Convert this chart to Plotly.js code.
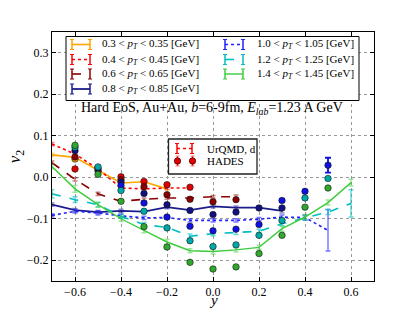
<!DOCTYPE html>
<html><head><meta charset="utf-8">
<script src="https://cdn.plot.ly/plotly-3.0.1.min.js"></script>
<style>html,body{margin:0;padding:0;background:#fff}#g{width:415px;height:312px}</style>
</head><body><div id="g"></div>
<script>
// ---------- data ----------
const binLabels = ["0.3","0.4","0.6","0.8","1.0","1.2","1.4"];
const binUpper  = ["0.35","0.45","0.65","0.85","1.05","1.25","1.45"];

// UrQMD deuteron v2 vs rapidity
const urqmdOrangeX = [-0.7,-0.6,-0.5,-0.4,-0.3,-0.2];
const urqmdOrangeV = [0.054,0.048,0.017,-0.014,-0.011,-0.028];
const urqmdOrangeE = [0.004,0.005,0.004,0.004,0.004,0.004];
const urqmdRedX = [-0.7,-0.6,-0.5,-0.4,-0.3,-0.2,-0.1];
const urqmdRedV = [0.080,0.056,0.020,-0.026,-0.028,-0.026,-0.026];
const urqmdRedE = [0.004,0.004,0.004,0.003,0.003,0.003,0.003];
const urqmdDarkRedX = [-0.7,-0.6,-0.5,-0.4,-0.3,-0.2,-0.1,0.0,0.1];
const urqmdDarkRedV = [0.035,-0.005,-0.040,-0.058,-0.053,-0.050,-0.050,-0.047,-0.047];
const urqmdDarkRedE = [0.004,0.004,0.004,0.004,0.003,0.003,0.003,0.003,0.004];
const urqmdNavyX = [-0.7,-0.6,-0.5,-0.4,-0.3,-0.2,-0.1,0.0,0.1,0.2,0.3];
const urqmdNavyV = [-0.066,-0.079,-0.084,-0.081,-0.083,-0.072,-0.079,-0.070,-0.073,-0.073,-0.081];
const urqmdNavyE = [0.004,0.004,0.004,0.004,0.004,0.004,0.004,0.004,0.004,0.004,0.005];
const urqmdBlueX = [-0.7,-0.6,-0.5,-0.4,-0.3,-0.2,-0.1,0.0,0.1,0.2,0.3,0.4,0.5];
const urqmdBlueV = [-0.092,-0.082,-0.086,-0.093,-0.098,-0.097,-0.104,-0.104,-0.104,-0.101,-0.096,-0.097,-0.128];
const urqmdBlueE = [0.004,0.004,0.005,0.004,0.004,0.004,0.004,0.004,0.004,0.004,0.005,0.006,0.050];
const urqmdCyanX = [-0.7,-0.6,-0.5,-0.4,-0.3,-0.2,-0.1,0.0,0.1,0.2,0.3,0.4,0.5,0.6];
const urqmdCyanV = [-0.040,-0.054,-0.066,-0.094,-0.114,-0.121,-0.142,-0.136,-0.133,-0.130,-0.112,-0.098,-0.084,-0.063];
const urqmdCyanE = [0.010,0.007,0.005,0.005,0.005,0.005,0.005,0.005,0.005,0.005,0.005,0.005,0.006,0.033];
const urqmdGreenX = [-0.7,-0.6,-0.5,-0.4,-0.3,-0.2,-0.1,0.0,0.1,0.2,0.3,0.4,0.5,0.6];
const urqmdGreenV = [0.026,-0.028,-0.066,-0.100,-0.128,-0.156,-0.177,-0.179,-0.175,-0.169,-0.124,-0.096,-0.061,-0.013];
const urqmdGreenE = [0.006,0.008,0.006,0.006,0.006,0.006,0.005,0.006,0.005,0.005,0.006,0.006,0.006,0.008];

// HADES data points
const hadesOrangeX = [-0.6];
const hadesOrangeV = [0.044];
const hadesRedX = [-0.6,-0.4,-0.3,-0.2,-0.1];
const hadesRedV = [0.020,0.001,-0.010,-0.018,-0.024];
const hadesDarkRedX = [-0.6,-0.5,-0.4,-0.3,-0.2,-0.1,0.0,0.1];
const hadesDarkRedV = [0.049,0.016,-0.006,-0.023,-0.042,-0.053,-0.059,-0.054];
const hadesNavyX = [-0.6,-0.5,-0.4,-0.3,-0.2,-0.1,0.0,0.1,0.2,0.3];
const hadesNavyV = [0.064,0.021,-0.012,-0.039,-0.066,-0.080,-0.090,-0.084,-0.074,-0.074];
const hadesBlueX = [-0.4,-0.3,-0.2,-0.1,0.0,0.1,0.2,0.3,0.4,0.5];
const hadesBlueV = [-0.020,-0.062,-0.096,-0.118,-0.129,-0.125,-0.114,-0.056,-0.034,0.029];
const hadesBlueE = [0.002,0.002,0.002,0.002,0.002,0.002,0.002,0.003,0.003,0.018];
const hadesCyanX = [-0.6,-0.5,-0.4,-0.3,-0.2,-0.1,0.0,0.1,0.2,0.3,0.4,0.5];
const hadesCyanV = [0.072,0.025,-0.032,-0.082,-0.122,-0.153,-0.167,-0.163,-0.140,-0.104,-0.050,-0.003];
const hadesGreenX = [-0.6,-0.5,-0.4,-0.3,-0.2,-0.1,0.0,0.1,0.2,0.3,0.4,0.5];
const hadesGreenV = [0.077,0.007,-0.058,-0.119,-0.168,-0.205,-0.221,-0.216,-0.184,-0.140,-0.072,-0.026];

const xTicks = [-0.6,-0.4,-0.2,0.0,0.2,0.4,0.6];
const yTicks = [-0.2,-0.1,0.0,0.1,0.2,0.3];

// ---------- styling ----------
const SERIF = "Liberation Serif";
const lineCols  = ["#ffa500","#ff0000","#8b0000","#1c1c8c","#2020ff","#00bfbf","#3ccc3c"];
const errCols   = ["rgba(255,165,0,0.5)","rgba(255,0,0,0.5)","rgba(139,0,0,0.5)","rgba(28,28,140,0.5)","rgba(32,32,255,0.6)","rgba(0,191,191,0.6)","rgba(60,204,60,0.5)"];
const dashes    = ["solid","dot","dash","solid","dot","dash","solid"];
const widths    = [1.6,1.6,1.6,1.8,1.6,1.6,1.4];
const dotCols   = ["#e8a000","#e00000","#8a0000","#101080","#1010e0","#00a8a8","#30a830"];

const U = [
  [urqmdOrangeX,urqmdOrangeV,urqmdOrangeE],
  [urqmdRedX,urqmdRedV,urqmdRedE],
  [urqmdDarkRedX,urqmdDarkRedV,urqmdDarkRedE],
  [urqmdNavyX,urqmdNavyV,urqmdNavyE],
  [urqmdBlueX,urqmdBlueV,urqmdBlueE],
  [urqmdCyanX,urqmdCyanV,urqmdCyanE],
  [urqmdGreenX,urqmdGreenV,urqmdGreenE]
];
const H = [
  [hadesOrangeX,hadesOrangeV,null],
  [hadesRedX,hadesRedV,null],
  [hadesDarkRedX,hadesDarkRedV,null],
  [hadesNavyX,hadesNavyV,null],
  [hadesBlueX,hadesBlueV,hadesBlueE],
  [hadesCyanX,hadesCyanV,null],
  [hadesGreenX,hadesGreenV,null]
];

const traces = [];
U.forEach((s,i)=>{
  traces.push({
    type:"scatter", mode:"lines", x:s[0], y:s[1],
    name: binLabels[i]+" < pT < "+binUpper[i]+" [GeV]",
    line:{color:lineCols[i], width:widths[i], dash:dashes[i]},
    error_y:{type:"data", array:s[2], visible:true, color:errCols[i], thickness:1.5, width:2.5},
    showlegend:false, hoverinfo:"skip"
  });
});
H.forEach((s,i)=>{
  const t = {
    type:"scatter", mode:"markers", x:s[0], y:s[1],
    marker:{color:dotCols[i], size:6.5, line:{color:"rgba(20,20,20,0.85)", width:0.7}},
    showlegend:false, hoverinfo:"skip"
  };
  if (s[2]) t.error_y = {type:"data", array:s[2], visible:true, color:dotCols[i], thickness:1.8, width:3};
  traces.push(t);
});

// ---------- layout helpers (pixel -> paper) ----------
const ML=52, MR=41, MT=32, MB=31, W=415, HH=312;
const PW=W-ML-MR, PH=HH-MT-MB;
const px = p => (p-ML)/PW;
const py = p => (HH-MB-p)/PH;

const shapes = [];
const annotations = [];
function seg(x0,y0,x1,y1,color,width,dash){
  shapes.push({type:"line", xref:"paper", yref:"paper", x0:px(x0), y0:py(y0), x1:px(x1), y1:py(y1),
    line:{color:color, width:width, dash:dash||"solid"}});
}
function handle(xa,xb,yc,i){
  seg(xa,yc,xb,yc,lineCols[i],widths[i],dashes[i]);
  [xa,xb].forEach(xx=>{
    seg(xx,yc-5,xx,yc+5,lineCols[i],1.5);
    seg(xx-2,yc-5,xx+2,yc-5,lineCols[i],1);
    seg(xx-2,yc+5,xx+2,yc+5,lineCols[i],1);
  });
}
// legend 1 box
shapes.push({type:"rect", xref:"paper", yref:"paper", x0:px(66), x1:px(359), y0:py(100.5), y1:py(36.5),
  line:{color:"#000", width:1}, fillcolor:"#fff", layer:"above"});
const rowsY = [44.5,59.5,74,89];
const legPos = [[0,0],[0,1],[0,2],[0,3],[1,0],[1,1],[1,2]];
legPos.forEach((p,i)=>{
  const hx = p[0]===0 ? [72,90] : [225,243];
  const tx = p[0]===0 ? 100 : 255;
  const yc = rowsY[p[1]];
  handle(hx[0],hx[1],yc,i);
  annotations.push({xref:"paper", yref:"paper", x:px(tx), y:py(yc), xanchor:"left", yanchor:"middle",
    showarrow:false, text: binLabels[i]+" &lt; <i>p</i><sub><i>T</i></sub> &lt; "+binUpper[i]+" [GeV]",
    font:{family:SERIF, size:11, color:"#000"}});
});
// legend 2 box
shapes.push({type:"rect", xref:"paper", yref:"paper", x0:px(168.5), x1:px(257), y0:py(174), y1:py(139),
  line:{color:"#222", width:1.3}, fillcolor:"#fff", layer:"above"});
// UrQMD, d handle
seg(177,148.5,192,148.5,"#ff0000",1.6,"dot");
[177,192].forEach(xx=>{ seg(xx,143.5,xx,153.5,"#ff0000",1.5); seg(xx-2,143.5,xx+2,143.5,"#ff0000",1); seg(xx-2,153.5,xx+2,153.5,"#ff0000",1); });
annotations.push({xref:"paper", yref:"paper", x:px(205), y:py(148.5), xanchor:"left", yanchor:"middle", showarrow:false,
  text:"UrQMD, d", font:{family:SERIF, size:11, color:"#000"}});
// HADES handle (error bar + marker)
[177.5,192.5].forEach(xx=>{ seg(xx,156,xx,166,"#ff0000",1.5); seg(xx-2,156,xx+2,156,"#ff8080",1); seg(xx-2,166,xx+2,166,"#ff8080",1);
  shapes.push({type:"circle", xref:"paper", yref:"paper", x0:px(xx-3.2), x1:px(xx+3.2), y0:py(164.2), y1:py(157.8),
    fillcolor:"#e00000", line:{color:"#400", width:0.7}, layer:"above"}); });
annotations.push({xref:"paper", yref:"paper", x:px(205), y:py(161), xanchor:"left", yanchor:"middle", showarrow:false,
  text:"HADES", font:{family:SERIF, size:11, color:"#000"}});
// title text inside plot
annotations.push({xref:"paper", yref:"paper", x:px(212), y:py(108.5), xanchor:"center", yanchor:"middle", showarrow:false,
  text:"Hard EoS, Au+Au, <i>b</i>=6-9fm, <i>E</i><sub><i>lab</i></sub>=1.23 A GeV", font:{family:SERIF, size:14, color:"#000"}});
// x axis title
annotations.push({xref:"paper", yref:"paper", x:px(213), y:py(290), xanchor:"center", yanchor:"top", showarrow:false,
  text:"<i>y</i>", font:{family:SERIF, size:15, color:"#000"}});

const layout = {
  width:W, height:HH,
  margin:{l:ML, r:MR, t:MT, b:MB, pad:0},
  paper_bgcolor:"#fff", plot_bgcolor:"#fff",
  font:{family:SERIF, size:12, color:"#000"},
  showlegend:false,
  xaxis:{range:[-0.7,0.7], tickvals:xTicks, ticktext:xTicks.map(v=>v.toFixed(1).replace("-","\u2212")),
    showline:true, linecolor:"#000", linewidth:1, mirror:"ticks", ticks:"inside", ticklen:4, tickcolor:"#000",
    showgrid:true, gridcolor:"#9a9a9a", griddash:"dot", gridwidth:1, zeroline:false,
    tickfont:{family:SERIF, size:12}},
  yaxis:{range:[-0.25,0.35], tickvals:yTicks, ticktext:yTicks.map(v=>v.toFixed(1).replace("-","\u2212")),
    showline:true, linecolor:"#000", linewidth:1, mirror:"ticks", ticks:"inside", ticklen:4, tickcolor:"#000",
    showgrid:true, gridcolor:"#9a9a9a", griddash:"dot", gridwidth:1, zeroline:false,
    title:{text:"<i>v</i><sub>2</sub>", font:{family:SERIF, size:17}, standoff:1}, tickfont:{family:SERIF, size:12}},
  shapes:shapes, annotations:annotations
};
Plotly.newPlot("g", traces, layout, {staticPlot:true, displayModeBar:false});
</script></body></html>
